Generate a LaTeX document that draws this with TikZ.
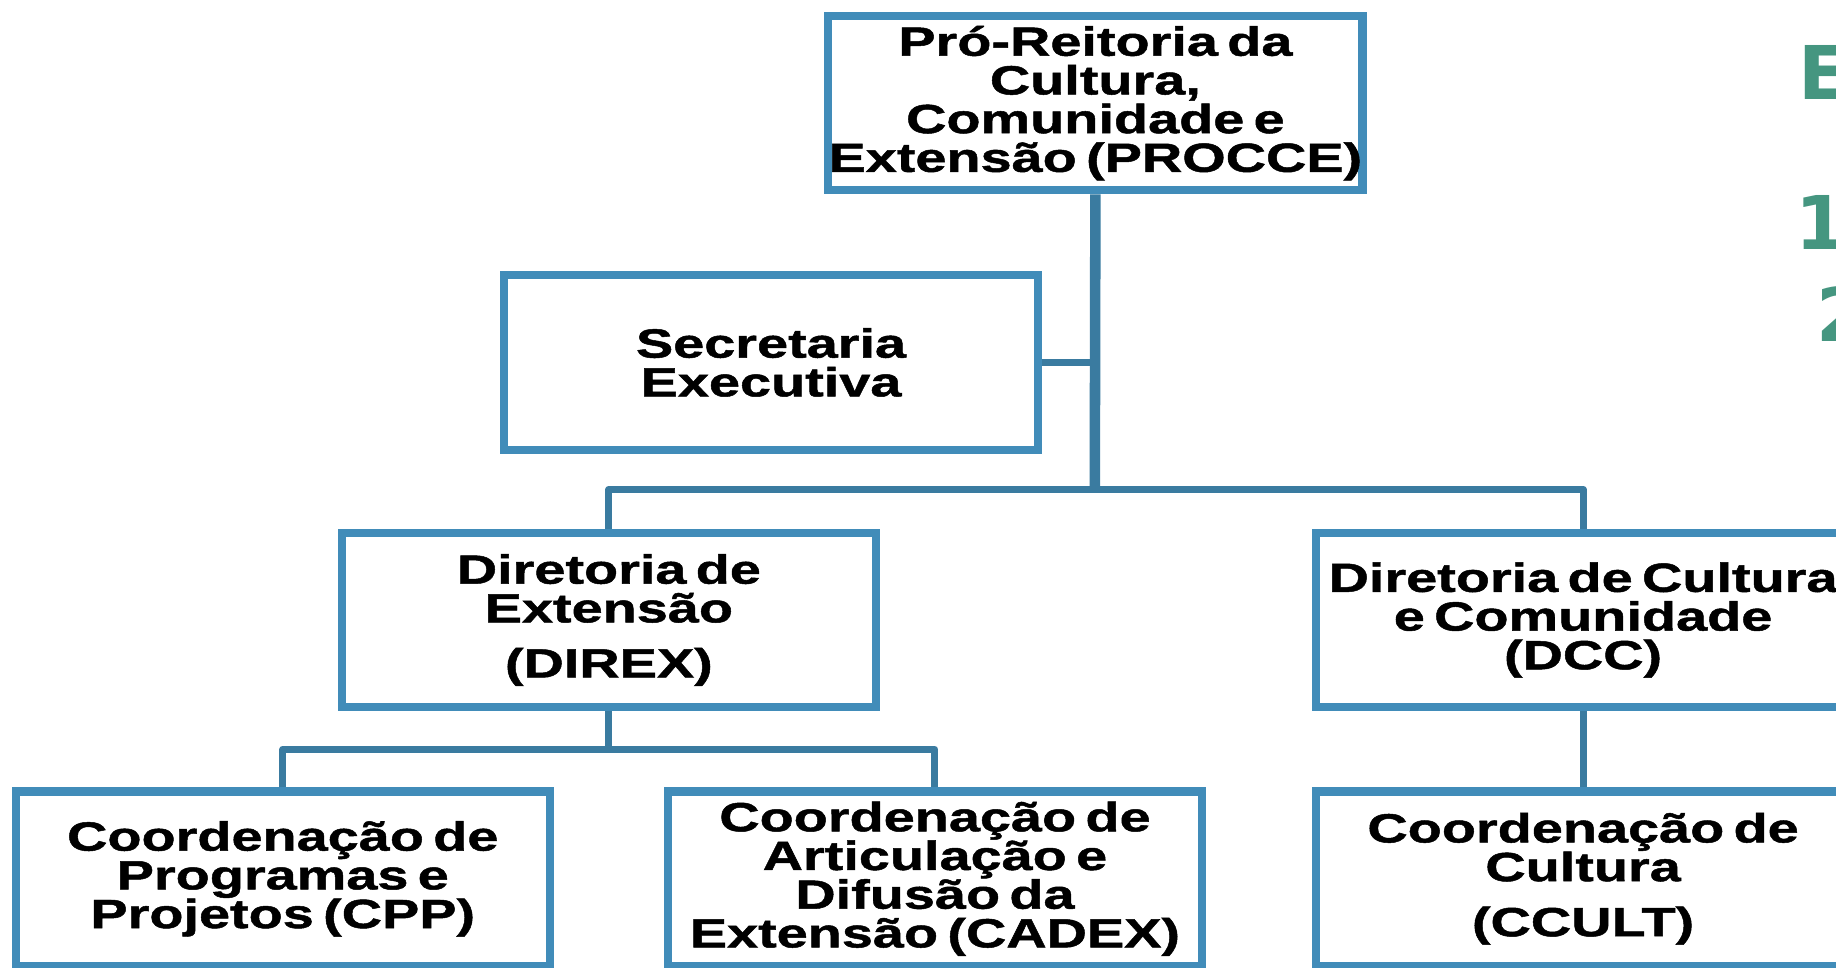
\documentclass[tikz,border=0pt]{standalone}
\usepackage{fontspec}
\setmainfont{Liberation Sans}[FakeStretch=1.37,WordSpace=0.6,BoldFeatures={FakeBold=1.2}]
\newfontfamily\greenfont{DejaVu Sans}
\definecolor{boxblue}{RGB}{65,140,185}
\definecolor{lineblue}{RGB}{58,123,160}
\definecolor{tealgreen}{RGB}{69,150,128}
\begin{document}
\begin{tikzpicture}[x=0.01cm,y=-0.01cm,
  orgbox/.style={draw=boxblue, line width=0.07cm, fill=white, rectangle, inner sep=0pt,
    minimum width=4.56cm, minimum height=1.49cm, align=center,
    font=\fontsize{9.9}{9.4}\selectfont\bfseries},
  link/.style={draw=lineblue, line width=0.06cm, line join=round},
  trunk/.style={draw=lineblue, line width=0.09cm, line join=round},
  sidetext/.style={text=tealgreen, font=\greenfont\bfseries\fontsize{18}{18}\selectfont, inner sep=0pt, anchor=base west}
]
\useasboundingbox (0,0) rectangle (1568,826);
\clip (0,0) rectangle (1568,826);
\fill[white] (0,0) rectangle (1568,826);

\coordinate (bus) at (935,418);
\coordinate (sj) at (935,309.5);
\coordinate (bus2) at (520,640);

\node[orgbox] (procce) at (935.5,88) {Pró-Reitoria da\\Cultura,\\Comunidade e\\Extensão (PROCCE)};
\node[orgbox] (sec) at (658.5,309.5) {Secretaria\\Executiva};
\node[orgbox] (direx) at (520,529.5) {Diretoria de\\Extensão\\[0.14cm](DIREX)};
\node[orgbox] (dcc) at (1352,529.5) {Diretoria de Cultura\\e Comunidade\\(DCC)};
\node[orgbox] (cpp) at (241.5,750.5) {Coordenação de\\Programas e\\Projetos (CPP)};
\node[orgbox] (cadex) at (798.5,750.5) {Coordenação de\\Articulação e\\Difusão da\\Extensão (CADEX)};
\node[orgbox] (ccult) at (1352,750.5) {Coordenação de\\Cultura\\[0.14cm](CCULT)};

\draw[trunk] (procce.south) -- (bus);
\draw[link] (sec.east) -- (sj);
\draw[link] (direx.north) |- (bus) -| (dcc.north);
\draw[link] (direx.south) -- (bus2);
\draw[link] (cpp.north) |- (bus2) -| (cadex.north);
\draw[link] (dcc.south) -- (ccult.north);

\node[sidetext] (tE) at (1535,85) {E};
\node[sidetext] (t1) at (1533,213) {1};
\node[sidetext] (t2) at (1551,292) {2};
\end{tikzpicture}
\end{document}
